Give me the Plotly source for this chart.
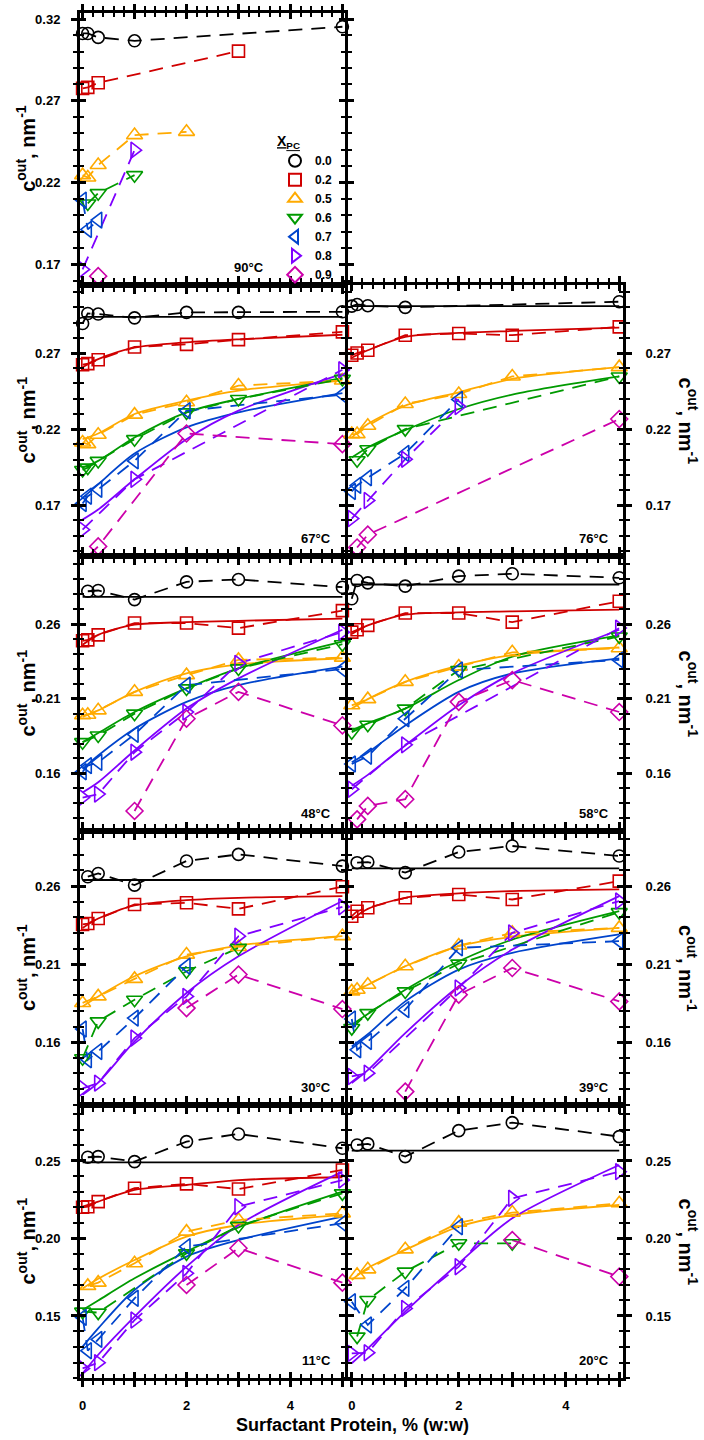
import plotly.graph_objects as go

W, H = 704, 1440
FONT = "Arial, Liberation Sans, sans-serif"

# surfactant protein content, % (w:w), shared by every series
X = [0, 0.1, 0.3, 1, 2, 3, 5]
# x positions where the fitted curves were read
FIT_X = [0, 0.3, 1, 2, 3, 5]
XPC = ["0.0", "0.2", "0.5", "0.6", "0.7", "0.8", "0.9"]

# c_out (nm^-1) at X, None = not measured
c90 = {
    "0.0": [0.3112, 0.3112, 0.3088, 0.3067, None, None, 0.3153],
    "0.2": [0.2776, 0.2782, 0.2810, None, None, 0.3004, None],
    "0.5": [0.2245, 0.2231, 0.2307, 0.2490, 0.2510, None, None],
    "0.6": [None, 0.2072, 0.2135, 0.2245, None, None, None],
    "0.7": [0.2092, 0.1913, 0.1970, None, None, None, None],
    "0.8": [0.1668, None, None, 0.2398, None, None, None],
    "0.9": [None, None, 0.1627, None, None, None, None],
}
c67 = {
    "0.0": [0.2894, 0.2960, 0.2956, 0.2931, 0.2967, 0.2967, 0.2971],
    "0.2": [0.2623, 0.2630, 0.2656, 0.2740, 0.2757, 0.2788, 0.2839],
    "0.5": [0.2112, 0.2101, 0.2163, 0.2295, 0.2376, 0.2486, 0.2519],
    "0.6": [0.1931, 0.1947, 0.1991, 0.2134, 0.2310, 0.2398, 0.2530],
    "0.7": [0.1711, 0.1759, 0.1804, 0.1991, 0.2321, None, 0.2427],
    "0.8": [0.1539, None, None, 0.1870, None, None, 0.2590],
    "0.9": [None, 0.1363, 0.1429, None, 0.2171, None, 0.2101],
}
fit67 = {
    "0.0": [0.2938, 0.2938, 0.2938, 0.2938, 0.2938, 0.2938],
    "0.2": [0.2607, 0.2660, 0.2735, 0.2770, 0.2790, 0.2820],
    "0.5": [0.2134, 0.2171, 0.2299, 0.2387, 0.2453, 0.2519],
    "0.6": [0.1947, 0.1991, 0.2145, 0.2310, 0.2398, 0.2537],
    "0.7": [0.1748, 0.1837, 0.2039, 0.2211, 0.2310, 0.2436],
    "0.8": [0.1605, 0.1671, 0.1870, 0.2134, 0.2321, 0.2563],
}
c76 = {
    "0.0": [0.3008, 0.3019, 0.3011, 0.3000, None, None, 0.3037],
    "0.2": [0.2685, 0.2700, 0.2718, 0.2817, 0.2828, 0.2817, 0.2872],
    "0.5": [0.2167, 0.2167, 0.2222, 0.2365, 0.2431, 0.2546, 0.2607],
    "0.6": [None, 0.1995, 0.2068, 0.2200, None, None, 0.2546],
    "0.7": [0.1790, 0.1830, 0.1880, 0.2040, 0.2395, None, None],
    "0.8": [0.1612, None, 0.1731, 0.2002, 0.2348, None, None],
    "0.9": [None, 0.1422, 0.1506, None, None, None, 0.2266],
}
fit76 = {
    "0.0": [0.3008, 0.3008, 0.3008, 0.3008, 0.3008, 0.3008],
    "0.2": [0.2669, 0.2718, 0.2806, 0.2832, 0.2845, 0.2867],
    "0.5": [0.2144, 0.2233, 0.2354, 0.2442, 0.2530, 0.2607],
    "0.6": [0.2013, 0.2079, 0.2193, 0.2332, 0.2427, 0.2546],
}
c48 = {
    "0.0": [None, 0.2820, 0.2825, 0.2764, 0.2883, 0.2899, 0.2847],
    "0.2": [0.2488, 0.2494, 0.2528, 0.2607, 0.2607, 0.2573, 0.2690],
    "0.5": [0.1989, 0.1993, 0.2022, 0.2146, 0.2258, 0.2360, 0.2375],
    "0.6": [0.1809, None, 0.1854, 0.2000, 0.2169, 0.2303, 0.2465],
    "0.7": [0.1611, 0.1652, 0.1674, 0.1861, 0.2191, None, 0.2299],
    "0.8": [0.1438, None, 0.1461, 0.1742, 0.2011, 0.2337, 0.2546],
    "0.9": [None, None, None, 0.1348, 0.1966, 0.2146, 0.1921],
}
fit48 = {
    "0.0": [0.2782, 0.2782, 0.2782, 0.2782, 0.2782, 0.2782],
    "0.2": [0.2461, 0.2528, 0.2596, 0.2613, 0.2622, 0.2636],
    "0.5": [0.1978, 0.2022, 0.2146, 0.2270, 0.2330, 0.2371],
    "0.6": [0.1809, 0.1870, 0.2011, 0.2169, 0.2303, 0.2483],
    "0.7": [0.1629, 0.1720, 0.1899, 0.2079, 0.2191, 0.2315],
    "0.8": [0.1472, 0.1540, 0.1753, 0.2034, 0.2236, 0.2562],
}
c58 = {
    "0.0": [0.2770, 0.2892, 0.2876, 0.2854, 0.2921, 0.2937, 0.2910],
    "0.2": [0.2546, 0.2562, 0.2591, 0.2674, 0.2674, 0.2613, 0.2753],
    "0.5": [0.2056, None, 0.2097, 0.2213, 0.2315, 0.2411, 0.2438],
    "0.6": [0.1876, None, 0.1926, 0.2034, 0.2292, None, 0.2517],
    "0.7": [0.1663, None, 0.1715, 0.1966, 0.2292, None, 0.2360],
    "0.8": [0.1494, None, None, 0.1791, None, None, 0.2573],
    "0.9": [None, 0.1292, 0.1382, 0.1427, 0.2079, 0.2225, 0.2011],
}
fit58 = {
    "0.0": [0.2865, 0.2865, 0.2865, 0.2865, 0.2865, 0.2865],
    "0.2": [0.2533, 0.2591, 0.2663, 0.2679, 0.2685, 0.2697],
    "0.5": [0.2034, 0.2097, 0.2213, 0.2321, 0.2393, 0.2443],
    "0.6": [0.1888, 0.1935, 0.2034, 0.2225, 0.2382, 0.2524],
    "0.7": [0.1674, 0.1740, 0.1921, 0.2146, 0.2269, 0.2371],
    "0.8": [0.1517, 0.1590, 0.1787, 0.2056, 0.2269, 0.2562],
}
c30 = {
    "0.0": [None, 0.2660, 0.2681, 0.2606, 0.2761, 0.2803, 0.2728],
    "0.2": [0.2354, 0.2360, 0.2392, 0.2482, 0.2493, 0.2454, 0.2596],
    "0.5": [0.1851, None, 0.1893, 0.2005, 0.2161, 0.2210, 0.2279],
    "0.6": [0.1497, None, 0.1733, 0.1872, 0.2054, 0.2204, None],
    "0.7": [0.1684, 0.1487, 0.1540, 0.1754, 0.2086, None, None],
    "0.8": [0.1304, None, 0.1337, 0.1626, 0.1893, 0.2279, 0.2467],
    "0.9": [None, None, None, None, 0.1818, 0.2033, 0.1812],
}
fit30 = {
    "0.0": [0.2639, 0.2639, 0.2639, 0.2639, 0.2639, 0.2639],
    "0.2": [0.2332, 0.2392, 0.2476, 0.2510, 0.2525, 0.2536],
    "0.5": [0.1829, 0.1893, 0.2022, 0.2150, 0.2219, 0.2279],
    "0.8": [0.1262, 0.1340, 0.1604, 0.1915, 0.2150, 0.2504],
}
c39 = {
    "0.0": [None, 0.2750, 0.2754, 0.2686, 0.2818, 0.2857, 0.2793],
    "0.2": [0.2407, 0.2439, 0.2461, 0.2525, 0.2546, 0.2514, 0.2632],
    "0.5": [0.1925, 0.1936, 0.1968, 0.2086, 0.2219, 0.2300, 0.2332],
    "0.6": [0.1690, None, 0.1786, 0.1925, 0.2103, None, 0.2433],
    "0.7": [0.1748, 0.1551, 0.1604, 0.1808, 0.2204, None, 0.2247],
    "0.8": [0.1380, None, 0.1401, None, 0.1947, 0.2300, 0.2504],
    "0.9": [None, None, None, 0.1283, 0.1904, 0.2075, 0.1861],
}
fit39 = {
    "0.0": [0.2713, 0.2713, 0.2713, 0.2713, 0.2713, 0.2713],
    "0.2": [0.2386, 0.2454, 0.2525, 0.2553, 0.2568, 0.2579],
    "0.5": [0.1915, 0.1968, 0.2086, 0.2215, 0.2275, 0.2332],
    "0.6": [0.1711, 0.1780, 0.1936, 0.2118, 0.2257, 0.2439],
    "0.7": [0.1572, 0.1650, 0.1861, 0.2065, 0.2172, 0.2290],
    "0.8": [0.1337, 0.1420, 0.1658, 0.1958, 0.2193, 0.2536],
}
c11 = {
    "0.0": [None, 0.2524, 0.2528, 0.2496, 0.2625, 0.2674, 0.2582],
    "0.2": [0.2201, 0.2205, 0.2238, 0.2324, 0.2352, 0.2319, 0.2442],
    "0.5": [None, 0.1694, 0.1715, 0.1840, 0.2044, 0.2119, 0.2162],
    "0.6": [0.1528, None, 0.1522, None, 0.1904, 0.2081, 0.2291],
    "0.7": [0.1491, 0.1276, 0.1349, 0.1614, 0.1947, None, 0.2098],
    "0.8": [0.1162, None, 0.1199, 0.1474, 0.1775, 0.2205, 0.2377],
    "0.9": [None, None, None, None, 0.1700, 0.1937, 0.1715],
}
fit11 = {
    "0.0": [0.2491, 0.2491, 0.2491, 0.2491, 0.2491, 0.2491],
    "0.2": [0.2205, 0.2238, 0.2313, 0.2345, 0.2377, 0.2395],
    "0.5": [0.1678, 0.1740, 0.1861, 0.2012, 0.2087, 0.2152],
    "0.6": [0.1539, 0.1600, 0.1743, 0.1915, 0.2072, 0.2302],
    "0.7": [0.1302, 0.1420, 0.1668, 0.1883, 0.1990, 0.2141],
    "0.8": [0.1130, 0.1250, 0.1496, 0.1818, 0.2087, 0.2431],
}
c20 = {
    "0.0": [None, 0.2603, 0.2610, 0.2528, 0.2696, 0.2747, 0.2657],
    "0.5": [None, 0.1765, 0.1801, 0.1930, 0.2102, 0.2167, 0.2227],
    "0.6": [None, 0.1367, 0.1603, 0.1786, 0.1969, 0.1969, None],
    "0.7": [0.1592, None, 0.1442, 0.1678, 0.2076, None, None],
    "0.8": [0.1259, None, 0.1263, 0.1549, 0.1818, 0.2259, 0.2431],
    "0.9": [None, None, None, None, None, 0.1990, 0.1754],
}
fit20 = {
    "0.0": [0.2567, 0.2567, 0.2567, 0.2567, 0.2567, 0.2567],
    "0.5": [0.1732, 0.1810, 0.1926, 0.2076, 0.2152, 0.2216],
    "0.8": [0.1195, 0.1290, 0.1528, 0.1840, 0.2130, 0.2474],
}

COLORS = {"0.0": "#000000", "0.2": "#D00000", "0.5": "#FFAA00", "0.6": "#009A00",
          "0.7": "#0044CC", "0.8": "#7F00FF", "0.9": "#CC00AA"}
SYMBOLS = {"0.0": "circle-open", "0.2": "square-open", "0.5": "triangle-up-open",
           "0.6": "triangle-down-open", "0.7": "triangle-left-open",
           "0.8": "triangle-right-open", "0.9": "diamond-open"}
SIZES = {"0.0": 12, "0.2": 12, "0.5": 14, "0.6": 14, "0.7": 14, "0.8": 14, "0.9": 13}

# label, data, fits, column, row
PANELS = [
    ("90°C", c90, {}, 0, 0),
    ("67°C", c67, fit67, 0, 1),
    ("76°C", c76, fit76, 1, 1),
    ("48°C", c48, fit48, 0, 2),
    ("58°C", c58, fit58, 1, 2),
    ("30°C", c30, fit30, 0, 3),
    ("39°C", c39, fit39, 1, 3),
    ("11°C", c11, fit11, 0, 4),
    ("20°C", c20, fit20, 1, 4),
]

COL_PX = [(80, 345), (348, 623)]
ROW_PX = [(12.7, 285), (285, 556), (556, 831), (831, 1105), (1105, 1378)]
X_RANGE = [[-0.05, 5.05], [-0.07, 5.07]]
Y_RANGE = [[0.1573, 0.3239], [0.1366, 0.3147], [0.1214, 0.3056], [0.1197, 0.2953], [0.1100, 0.2861]]
Y_TICK0 = [0.17, 0.17, 0.16, 0.16, 0.15]


def fx(p):
    return p / W


def fy(p):
    return 1 - p / H


fig = go.Figure()
layout = {}
annotations = []
tickfont = dict(family=FONT, size=13, color="black", weight="bold")

for k, (label, data, fits, col, row) in enumerate(PANELS, start=1):
    xa, ya = f"x{k}", f"y{k}"
    for s in XPC:
        if s in fits:
            fig.add_trace(go.Scatter(
                x=FIT_X, y=fits[s], mode="lines", xaxis=xa, yaxis=ya,
                line=dict(color=COLORS[s], width=1.8, shape="spline", smoothing=0.8),
                showlegend=False, hoverinfo="skip"))
    for s in XPC:
        if s in data:
            fig.add_trace(go.Scatter(
                x=X, y=data[s], mode="lines", connectgaps=True, xaxis=xa, yaxis=ya,
                line=dict(color=COLORS[s], width=1.8, dash="14px,9px"),
                showlegend=False, hoverinfo="skip"))
    for s in XPC:
        if s in data:
            fig.add_trace(go.Scatter(
                x=X, y=data[s], mode="markers", name=s, xaxis=xa, yaxis=ya,
                marker=dict(symbol=SYMBOLS[s], size=SIZES[s], color=COLORS[s],
                            line=dict(width=1.6, color=COLORS[s])),
                cliponaxis=False, showlegend=(k == 1)))

    x0, x1 = COL_PX[col]
    top, bot = ROW_PX[row]
    xdom = [fx(x0), fx(x1)]
    ydom = [fy(bot), fy(top)]
    bottom_row = row == 4
    common = dict(showgrid=False, zeroline=False, tickcolor="black")

    layout[f"xaxis{k}"] = dict(
        domain=xdom, range=X_RANGE[col], anchor=ya, showline=True, linewidth=3,
        linecolor="black", mirror="allticks", ticks="outside", ticklen=6, tickwidth=2.5,
        tickmode="array", tickvals=[0, 1, 2, 3, 4, 5], ticktext=["0", " ", "2", " ", "4", " "],
        showticklabels=bottom_row, tickfont=tickfont, ticklabelstandoff=7,
        minor=dict(ticks="outside", tickmode="linear", tick0=0, dtick=0.2, ticklen=4,
                   tickwidth=2, tickcolor="black"),
        **common)
    layout[f"yaxis{k}"] = dict(
        domain=ydom, range=Y_RANGE[row], anchor=xa, side="left" if col == 0 else "right",
        showline=True, linewidth=3, linecolor="black", mirror="allticks", ticks="outside",
        ticklen=6, tickwidth=2.5, tickmode="linear", tick0=Y_TICK0[row], dtick=0.05,
        tickformat=".2f", tickfont=tickfont, ticklabelstandoff=8 if col == 0 else 11,
        minor=dict(ticks="outside", tickmode="linear", tick0=Y_TICK0[row], dtick=0.01,
                   ticklen=4, tickwidth=2, tickcolor="black"),
        **common)

    # inner half of the crossing ticks
    j = k + len(PANELS)
    fig.add_trace(go.Scatter(x=[None], y=[None], xaxis=f"x{j}", yaxis=f"y{j}",
                             showlegend=False, hoverinfo="skip"))
    layout[f"xaxis{j}"] = dict(
        overlaying=xa, anchor=f"y{j}", range=X_RANGE[col], mirror="allticks",
        ticks="inside", ticklen=6, tickwidth=2.5, tickmode="array",
        tickvals=[0, 1, 2, 3, 4, 5], showticklabels=False, showline=False,
        minor=dict(ticks="inside", tickmode="linear", tick0=0, dtick=0.2, ticklen=4,
                   tickwidth=2, tickcolor="black"),
        **common)
    layout[f"yaxis{j}"] = dict(
        overlaying=ya, anchor=f"x{j}", range=Y_RANGE[row], mirror="allticks",
        ticks="inside", ticklen=6, tickwidth=2.5, tickmode="linear", tick0=Y_TICK0[row],
        dtick=0.05, showticklabels=False, showline=False,
        minor=dict(ticks="inside", tickmode="linear", tick0=Y_TICK0[row], dtick=0.01,
                   ticklen=4, tickwidth=2, tickcolor="black"),
        **common)

    # temperature label
    lx = 266 if k == 1 else x1 - 12
    annotations.append(dict(
        text=f"<b>{label}</b>", x=fx(lx), y=fy(bot - 18), xref="paper", yref="paper",
        xanchor="right", yanchor="middle", showarrow=False,
        font=dict(family=FONT, size=13, color="black")))

    # y-axis title
    annotations.append(dict(
        text="<b>c<sup>out</sup>, nm<sup>-1</sup></b>",
        x=fx(26) if col == 0 else fx(688), y=fy((top + bot) / 2),
        xref="paper", yref="paper", xanchor="center", yanchor="middle",
        textangle=-90 if col == 0 else 90, showarrow=False,
        font=dict(family=FONT, size=20, color="black")))

annotations.append(dict(
    text="<b>Surfactant Protein, % (w:w)</b>", x=fx(352), y=fy(1425),
    xref="paper", yref="paper", xanchor="center", yanchor="middle", showarrow=False,
    font=dict(family=FONT, size=18, color="black")))

fig.update_layout(
    width=W, height=H, autosize=False,
    margin=dict(l=0, r=0, t=0, b=0),
    paper_bgcolor="white", plot_bgcolor="rgba(0,0,0,0)",
    font=dict(family=FONT, color="black"),
    hovermode=False,
    annotations=annotations,
    legend=dict(
        x=fx(275), y=fy(128), xanchor="left", yanchor="top",
        bgcolor="rgba(0,0,0,0)", itemsizing="constant", tracegroupgap=0,
        font=dict(family=FONT, size=12, color="black", weight="bold"),
        title=dict(text="<span style='text-decoration:underline'><b>X<sub>PC</sub></b></span>",
                   font=dict(family=FONT, size=14, color="black")),
    ),
    **layout,
)

fig.write_html("out.html", config={"displayModeBar": False},
               post_script="document.body.style.margin='0px';")
